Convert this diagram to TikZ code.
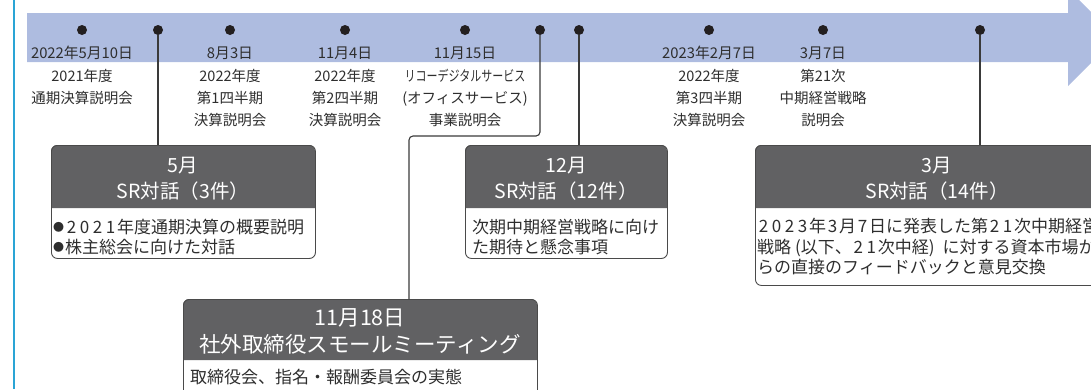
\documentclass[tikz,border=0pt]{standalone}
\usepackage{fontspec}
\setmainfont{Noto Sans CJK JP}
\usepackage{graphicx}
\definecolor{bandc}{HTML}{AEBCE0}
\definecolor{cyanc}{HTML}{2AA4D5}
\definecolor{dotc}{HTML}{231F20}
\definecolor{txt}{HTML}{2E2E2E}
\definecolor{hdrc}{HTML}{616163}
\definecolor{bordc}{HTML}{4A4A4A}
\definecolor{connc}{HTML}{3A3A3A}
\newcommand{\smbullet}{\raisebox{2.2pt}{\fontsize{11}{11}\selectfont ●}\kern1pt}
\newcommand{\D}[1]{\makebox[13pt]{#1}}
\begin{document}
\begin{tikzpicture}[x=1pt,y=-1pt,
  dot/.style={circle,fill=dotc,inner sep=0pt,minimum size=10pt},
  datel/.style={text=txt,font=\fontsize{14.8}{22}\selectfont,inner sep=0pt},
  desc/.style={text=txt,font=\fontsize{14.5}{22}\selectfont,align=center,inner sep=0pt},
  cardbox/.style={draw=bordc,line width=0.9pt,rounded corners=6pt,inner sep=0pt,anchor=north west},
  hdr/.style={fill=hdrc,rounded corners=6pt},
  hdrtext/.style={text=white,font=\fontsize{19.5}{26}\selectfont,align=center,inner sep=0pt},
  bodytext/.style={text=txt,font=\fontsize{17}{20.5}\selectfont,align=left,inner sep=0pt,anchor=west},
  conn/.style={draw=connc,line width=1.1pt}]
\useasboundingbox (0,0) rectangle (1091,389);
\clip (0,0) rectangle (1091,389);
% timeline band
\fill[bandc] (27,13) -- (1068,13) -- (1068,-11) -- (1116.5,37.5) -- (1068,86) -- (1068,62) -- (27,62) -- cycle;
\draw[cyanc, line width=2pt] (14,0) -- (14,389);
% dots
\node[dot] (d1) at (82,30) {};
\node[dot] (d2) at (158,30) {};
\node[dot] (d3) at (230,30) {};
\node[dot] (d4) at (345,30) {};
\node[dot] (d5) at (465,30) {};
\node[dot] (d6) at (540,30) {};
\node[dot] (d7) at (579,30) {};
\node[dot] (d8) at (709,30) {};
\node[dot] (d9) at (823,30) {};
\node[dot] (d10) at (980,30) {};
% dates
\node[datel] (t1) at (82,53) {2022年5月10日};
\node[datel] (t3) at (230,53) {8月3日};
\node[datel] (t4) at (345,53) {11月4日};
\node[datel] (t5) at (465,53) {11月15日};
\node[datel] (t8) at (709,53) {2023年2月7日};
\node[datel] (t9) at (823,53) {3月7日};
% descriptions
\node[desc] (e1) at (82,87) {2021年度\\通期決算説明会};
\node[desc] (e3) at (230,98) {2022年度\\第1四半期\\決算説明会};
\node[desc] (e4) at (345,98) {2022年度\\第2四半期\\決算説明会};
\node[desc] (e5) at (465,98) {\scalebox{0.76}[1]{リコーデジタルサービス}\\(オフィスサービス)\\事業説明会};
\node[desc] (e8) at (709,98) {2022年度\\第3四半期\\決算説明会};
\node[desc] (e9) at (823,98) {第21次\\中期経営戦略\\説明会};
% card 1
\fill[hdr] (51,208) -- (51,145) -- (315,145) -- (315,208);
\node[cardbox, minimum width=264pt, minimum height=113pt] (c1) at (51,145) {};
\node[hdrtext] (h1) at (183,179) {5月\\SR対話（3件）};
\node[bodytext] (b1) at (53,237) {\smbullet \D2\D0\D2\D1年度通期決算の概要説明\\\smbullet 株主総会に向けた対話};
% card 2
\fill[hdr] (465,208) -- (465,145) -- (667,145) -- (667,208);
\node[cardbox, minimum width=202pt, minimum height=113pt] (c2) at (465,145) {};
\node[hdrtext] (h2) at (566,179) {12月\\SR対話（12件）};
\node[bodytext] (b2) at (472,237) {次期中期経営戦略に向け\\た期待と懸念事項};
% card 3
\fill[hdr] (755,208) -- (755,145) -- (1119,145) -- (1119,208);
\node[cardbox, minimum width=364pt, minimum height=140pt] (c3) at (755,145) {};
\node[hdrtext] (h3) at (937,179) {3月\\SR対話（14件）};
\node[bodytext] (b3) at (757,247) {\D2\D0\D2\D3年\D3月\D7日に発表した第\D2\D1次中期経営\\戦略\kern4pt(以下、\D2\D1次中経)\kern8pt に対する資本市場か\\らの直接のフィードバックと意見交換};
% card 4
\fill[hdr] (183,360) -- (183,299) -- (537,299) -- (537,360);
\node[cardbox, minimum width=354pt, minimum height=130pt] (c4) at (183,299) {};
\node[hdrtext, font=\fontsize{21.5}{27}\selectfont] (h4) at (360,331.5) {11月18日\\社外取締役スモールミーティング};
\node[bodytext] (b4) at (190,377) {取締役会、指名・報酬委員会の実態};
% connectors
\coordinate (k1) at (409,136);
\draw[conn] (d2.south) -- (d2 |- c1.north);
\draw[conn, rounded corners=4pt] (d6.south) |- (k1) -- (k1 |- c4.north);
\draw[conn] (d7.south) -- (d7 |- c2.north);
\draw[conn] (d10.south) -- (d10 |- c3.north);
\end{tikzpicture}
\end{document}
